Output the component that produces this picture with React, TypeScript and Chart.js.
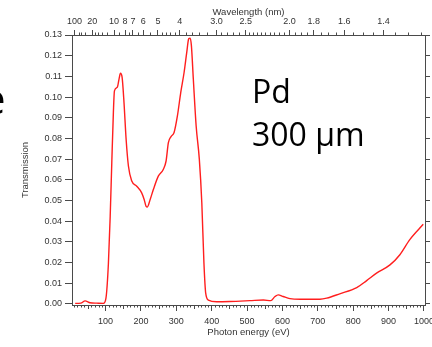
import React, { useEffect, useRef } from "react";
import { Chart, registerables } from "chart.js";

Chart.register(...registerables);

// ---- data ----
const energyEV = [
  14, 30, 42, 56, 75, 94, 101, 108, 113, 117.5, 122, 125, 133, 138, 142, 146.6,
  152, 158, 164.5, 174, 188, 202, 209, 214.5, 218, 226, 235, 249, 263, 271,
  277.5, 285, 293.6, 303, 312.5, 322, 329.5, 335, 339, 342.5, 348, 356, 365,
  372, 378, 383, 390.5, 414, 450, 508, 546, 567, 579, 588, 602, 621, 650, 706,
  725, 762, 810, 838, 866, 904, 932, 960, 998,
];
const transmission = [
  0.0003, 0.0004, 0.0015, 0.0006, 0.0004, 0.0003, 0.0028, 0.0198, 0.0424,
  0.0683, 0.0926, 0.103, 0.1047, 0.1087, 0.1115, 0.1096, 0.0974, 0.0796,
  0.0667, 0.0594, 0.0569, 0.0537, 0.0505, 0.0472, 0.0469, 0.0505, 0.0553,
  0.0618, 0.065, 0.0691, 0.078, 0.0809, 0.0829, 0.0909, 0.1023, 0.112, 0.1217,
  0.1282, 0.1285, 0.125, 0.1087, 0.086, 0.0699, 0.0489, 0.0198, 0.0052,
  0.0019, 0.0011, 0.0012, 0.0016, 0.0019, 0.0016, 0.0036, 0.0044, 0.0036,
  0.0026, 0.0023, 0.0023, 0.0028, 0.0049, 0.0079, 0.0113, 0.0149, 0.0189,
  0.0238, 0.0311, 0.0385,
];

const energyTicks = [100, 200, 300, 400, 500, 600, 700, 800, 900, 1000];
const transmissionTicks = [
  0, 0.01, 0.02, 0.03, 0.04, 0.05, 0.06, 0.07, 0.08, 0.09, 0.1, 0.11, 0.12, 0.13,
];
const wavelengthLabels = [
  "100", "20", "10", "8", "7", "6", "5", "4", "3.0", "2.5", "2.0", "1.8", "1.6", "1.4",
];
const wavelengthMinor = [
  50, 40, 30, 18, 16, 14, 12, 9, 7.5, 6.5, 5.5, 4.8, 4.6, 4.4, 4.2, 3.8, 3.6,
  3.4, 3.2, 2.9, 2.8, 2.7, 2.6, 2.45, 2.4, 2.35, 2.3, 2.25, 2.2, 2.15, 2.1,
  2.05, 1.95, 1.9, 1.85, 1.75, 1.7, 1.65, 1.55, 1.5, 1.45, 1.35, 1.3, 1.25,
];
const HC = 1239.84; // eV·nm

const AXIS = "#4a4a4a";
const TEXT = "#333333";
const FONT = "'Liberation Sans', Arial, sans-serif";

const extras = {
  id: "extras",
  afterDraw(chart: any) {
    const ctx = chart.ctx as CanvasRenderingContext2D;
    const x = chart.scales.x;
    const x2 = chart.scales.x2;
    ctx.save();
    ctx.strokeStyle = AXIS;
    ctx.lineWidth = 1;
    ctx.beginPath();
    for (let e = 10; e < 1000; e += 10) {
      if (e % 100 === 0) continue;
      const px = Math.round(x.getPixelForValue(e)) + 0.5;
      const len = e % 50 === 0 ? 4 : 2.5;
      ctx.moveTo(px, x.top);
      ctx.lineTo(px, x.top + len);
    }
    for (const l of wavelengthMinor) {
      const px = Math.round(x2.getPixelForValue(HC / l)) + 0.5;
      ctx.moveTo(px, x2.bottom);
      ctx.lineTo(px, x2.bottom - 2.5);
    }
    ctx.stroke();

    ctx.fillStyle = "#000";
    ctx.textBaseline = "alphabetic";
    ctx.textAlign = "left";
    ctx.font = "32px 'Open Sans'";
    ctx.fillText("Pd", 252, 103);
    ctx.fillText("300 µm", 252, 146);
    ctx.font = "42px 'Open Sans'";
    ctx.fillText("e", -18, 114);
    ctx.restore();
  },
};

export default function App() {
  const ref = useRef<HTMLCanvasElement | null>(null);

  useEffect(() => {
    if (!ref.current) return;
    const tickFont = { family: FONT, size: 9 };
    const chart = new Chart(ref.current, {
      type: "line",
      data: {
        datasets: [
          {
            data: energyEV.map((e, i) => ({ x: e, y: transmission[i] })),
            borderColor: "rgb(255,30,30)",
            borderWidth: 1.4,
            pointRadius: 0,
            cubicInterpolationMode: "monotone",
            fill: false,
            xAxisID: "x",
            yAxisID: "y",
          },
        ],
      },
      options: {
        animation: false,
        responsive: false,
        devicePixelRatio: 1,
        layout: { padding: 0 },
        plugins: { legend: { display: false }, tooltip: { enabled: false } },
        scales: {
          x: {
            type: "linear",
            position: "bottom",
            min: 5,
            max: 1003,
            afterBuildTicks: (s: any) => {
              s.ticks = energyTicks.map((v) => ({ value: v }));
            },
            afterFit: (s: any) => {
              s.height = 42;
              s.paddingLeft = 0;
              s.paddingRight = 0;
            },
            ticks: {
              autoSkip: false,
              maxRotation: 0,
              minRotation: 0,
              padding: 5,
              color: TEXT,
              font: tickFont,
              callback: (v: any) => String(v),
            },
            grid: { drawOnChartArea: false, tickLength: 6, color: AXIS },
            border: { display: true, color: AXIS, width: 1 },
            title: {
              display: true,
              text: "Photon energy (eV)",
              color: TEXT,
              font: { family: FONT, size: 9.5 },
              padding: { top: 0, bottom: 9 },
            },
          },
          x2: {
            type: "linear",
            position: "top",
            min: 5,
            max: 1003,
            afterBuildTicks: (s: any) => {
              s.ticks = wavelengthLabels.map((l) => ({ value: HC / parseFloat(l) }));
            },
            afterFit: (s: any) => {
              s.height = 35;
              s.paddingLeft = 0;
              s.paddingRight = 0;
            },
            ticks: {
              autoSkip: false,
              maxRotation: 0,
              minRotation: 0,
              padding: 3,
              color: TEXT,
              font: tickFont,
              callback: (_v: any, i: number) => wavelengthLabels[i],
            },
            grid: { drawOnChartArea: false, tickLength: 5, color: AXIS },
            border: { display: true, color: AXIS, width: 1 },
            title: {
              display: true,
              text: "Wavelength (nm)",
              color: TEXT,
              font: { family: FONT, size: 9.5 },
              padding: { top: 7, bottom: 0 },
            },
          },
          y: {
            type: "linear",
            position: "left",
            min: -0.0005,
            max: 0.13,
            afterBuildTicks: (s: any) => {
              s.ticks = transmissionTicks.map((v) => ({ value: v }));
            },
            afterFit: (s: any) => {
              s.width = 72;
            },
            ticks: {
              padding: 3,
              color: TEXT,
              font: tickFont,
              callback: (v: any) => Number(v).toFixed(2),
            },
            grid: { drawOnChartArea: false, tickLength: 7, color: AXIS },
            border: { display: true, color: AXIS, width: 1 },
            title: {
              display: true,
              text: "Transmission",
              color: TEXT,
              font: { family: FONT, size: 9.5 },
              padding: { top: 20, bottom: 0 },
            },
          },
          y2: {
            type: "linear",
            position: "right",
            min: -0.0005,
            max: 0.13,
            afterBuildTicks: (s: any) => {
              s.ticks = transmissionTicks.map((v) => ({ value: v }));
            },
            afterFit: (s: any) => {
              s.width = 7;
            },
            ticks: { display: false },
            grid: { drawOnChartArea: false, tickLength: 5, color: AXIS },
            border: { display: true, color: AXIS, width: 1 },
          },
        },
      },
      plugins: [extras],
    } as any);
    return () => chart.destroy();
  }, []);

  return (
    <div
      style={{
        position: "absolute",
        left: 0,
        top: 0,
        width: 432,
        height: 347,
        background: "#fff",
        overflow: "hidden",
      }}
    >
      <canvas ref={ref} width={432} height={347} style={{ display: "block" }} />
    </div>
  );
}
